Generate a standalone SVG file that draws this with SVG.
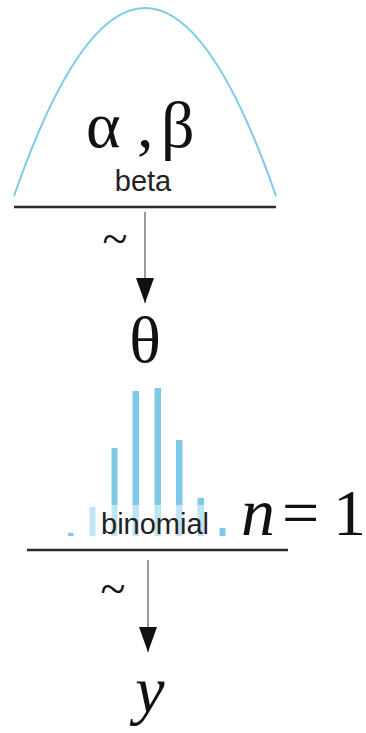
<svg xmlns="http://www.w3.org/2000/svg" width="366" height="733" viewBox="0 0 366 733">
<defs>
<marker id="ah" markerUnits="userSpaceOnUse" markerWidth="26" markerHeight="18" refX="25" refY="9" orient="auto" viewBox="0 0 26 18">
<path d="M0,0 L25,9 L0,18 Z" fill="#111"/>
</marker>
</defs>
<rect width="366" height="733" fill="#fff"/>
<g id="beta-node">
<path d="M14,196 Q145,-180 276,196" fill="none" stroke="#7ecbe9" stroke-width="2"/>
<text x="86" y="147" font-family="Liberation Serif" font-size="66" fill="#111">α</text>
<text x="137" y="147" font-family="Liberation Serif" font-size="66" fill="#111">,</text>
<text x="161" y="147" font-family="Liberation Serif" font-size="66" fill="#111">β</text>
<text x="143" y="191" text-anchor="middle" font-family="Liberation Sans" font-size="29" fill="#222">beta</text>
<line x1="14" y1="207" x2="276" y2="207" stroke="#2a2a2a" stroke-width="2.5"/>
</g>
<g id="theta-node">
<text x="145" y="362" font-size="66" font-family="Liberation Serif" text-anchor="middle" fill="#111">θ</text>
</g>
<g id="binomial-node">
<g fill="#7ec8e8">
<rect x="68" y="533" width="5.5" height="3"/>
<rect x="89.5" y="507" width="6" height="29"/>
<rect x="111.5" y="448" width="6" height="88"/>
<rect x="132.5" y="391" width="6.5" height="145"/>
<rect x="154.5" y="388" width="6.5" height="148"/>
<rect x="176" y="440" width="6.5" height="96"/>
<rect x="197.5" y="498" width="6.5" height="38"/>
<rect x="219.5" y="528" width="6" height="8"/>
</g>
<rect x="87" y="505" width="124" height="32" fill="#fff" fill-opacity="0.5"/>
<text x="155" y="534" text-anchor="middle" font-family="Liberation Sans" font-size="29" fill="#222">binomial</text>
<text x="241" y="535" font-size="68" font-family="Liberation Serif" font-style="italic" fill="#111">n</text>
<text x="282" y="535" font-size="66" font-family="Liberation Serif" fill="#111">=</text>
<text x="333" y="535" font-size="66" font-family="Liberation Serif" fill="#111">1</text>
<line x1="27" y1="550" x2="288" y2="550" stroke="#2a2a2a" stroke-width="2.5"/>
</g>
<g id="y-node">
<text x="150" y="712" font-size="66" font-family="Liberation Serif" font-style="italic" text-anchor="middle" fill="#111">y</text>
</g>
<g id="connectors">
<line x1="145" y1="212" x2="145" y2="303" stroke="#555" stroke-width="1.2" marker-end="url(#ah)"/>
<text x="115" y="254" font-size="46" font-family="Liberation Serif" text-anchor="middle" fill="#111">~</text>
<line x1="148" y1="560" x2="148" y2="652" stroke="#555" stroke-width="1.2" marker-end="url(#ah)"/>
<text x="113" y="604" font-size="46" font-family="Liberation Serif" text-anchor="middle" fill="#111">~</text>
</g>
</svg>
